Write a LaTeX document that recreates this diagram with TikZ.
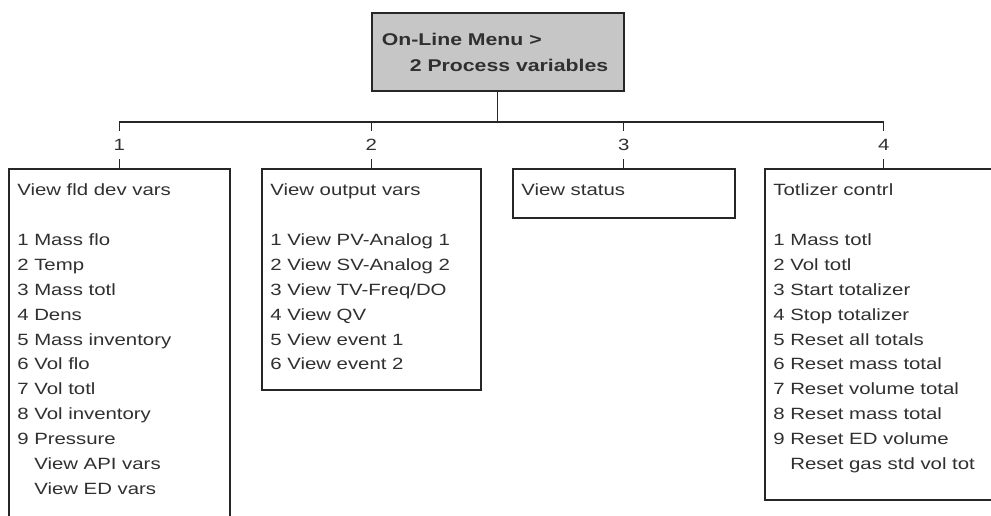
\documentclass[tikz,border=0pt]{standalone}
\usepackage{fontspec}
\setmainfont[FakeStretch=1.25]{Liberation Sans}
\usepackage{tikz}
\usetikzlibrary{positioning}
\definecolor{cLine}{HTML}{262626}
\definecolor{cText}{HTML}{303030}
\definecolor{cRoot}{HTML}{C6C6C6}
\newcommand{\menufont}{\fontsize{16.3}{24.9}\selectfont}
\newcommand{\rootfont}{\fontsize{17}{26}\selectfont\bfseries}
% fixed-size text block: width, height, lines
\newcommand{\menulist}[3]{\parbox[t][#2][t]{#1}{\vspace*{15pt}\raggedright\leftskip=8.5pt #3}}
\newcommand{\rootlist}[3]{\parbox[t][#2][t]{#1}{\vspace*{20.5pt}\raggedright\leftskip=10pt #3}}
\tikzset{
  menu/.style ={draw=cLine,line width=1.6pt,fill=white,anchor=north west,
                inner sep=0pt,font=\menufont,text=cText},
  root/.style ={menu,fill=cRoot,font=\rootfont},
  num/.style  ={fill=white,inner xsep=2pt,inner ysep=8pt,font=\menufont,text=cText},
  wire/.style ={draw=cLine,line width=1.3pt},
}

\begin{document}
\begin{tikzpicture}[x=1pt,y=-1pt]
\useasboundingbox (0,0) rectangle (991,515);
\clip (0,0) rectangle (991,515);

% ===== on-line menu ======================================================
\node[root] (pv) at (371,12)
  {\rootlist{252pt}{78pt}{On-Line Menu >\\ \hspace*{28pt}2 Process variables}};

% ===== sub menus (1 and 4 run past the page edge) ========================
\node[menu] (fld) at (8,168)
  {\menulist{221pt}{370pt}{View fld dev vars\\[\baselineskip]
   1 Mass flo\\ 2 Temp\\ 3 Mass totl\\ 4 Dens\\ 5 Mass inventory\\
   6 Vol flo\\ 7 Vol totl\\ 8 Vol inventory\\ 9 Pressure\\
   \phantom{9~}View API vars\\ \phantom{9~}View ED vars}};
\node[menu] (out) at (261,168)
  {\menulist{219pt}{221pt}{View output vars\\[\baselineskip]
   1 View PV-Analog 1\\ 2 View SV-Analog 2\\ 3 View TV-Freq/DO\\
   4 View QV\\ 5 View event 1\\ 6 View event 2}};
\node[menu] (sta) at (512,168)
  {\menulist{222pt}{49pt}{View status}};
\node[menu] (tot) at (764,168)
  {\menulist{238pt}{331pt}{Totlizer contrl\\[\baselineskip]
   1 Mass totl\\ 2 Vol totl\\ 3 Start totalizer\\ 4 Stop totalizer\\
   5 Reset all totals\\ 6 Reset mass total\\ 7 Reset volume total\\
   8 Reset mass total\\ 9 Reset ED volume\\
   \phantom{9~}Reset gas std vol tot}};

% ===== tree lines ========================================================
\coordinate (bus) at (0,122);
\draw[wire] (pv.south) -- (pv.south|-bus);
\draw[wire] (fld.north|-bus) -- (tot.north|-bus);
\foreach \c/\n in {fld/1,out/2,sta/3,tot/4}
  {\draw[wire] (\c.north|-bus) -- node[num]{\n} (\c.north);}
\end{tikzpicture}
\end{document}
